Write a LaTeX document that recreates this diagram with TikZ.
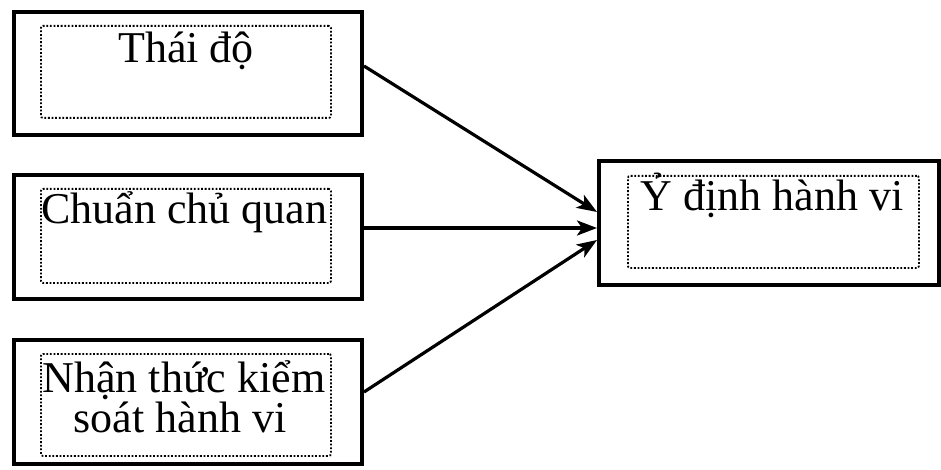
\documentclass[tikz,border=0pt]{standalone}
\usepackage{fontspec}
\setmainfont{Liberation Serif}
\usetikzlibrary{arrows.meta}
\begin{document}
\begin{tikzpicture}[x=1pt,y=-1pt,
  outerbox/.style={draw=black,line width=4pt},
  innerbox/.style={draw=black,line width=1.8pt,dash pattern=on 1.8pt off 1.8pt,rounded corners=2pt},
  lbl/.style={anchor=base,inner sep=0pt,font=\fontsize{44}{48}\selectfont},
  conn/.style={line width=3.2pt,-{Stealth[length=20pt,width=15pt,inset=5pt]}}]
\useasboundingbox (0,0) rectangle (941,470);
% left boxes
\node[outerbox,inner sep=0pt,minimum width=348pt,minimum height=123pt,anchor=north west] (b1) at (12,10) {};
\node[innerbox,inner sep=0pt,minimum width=290pt,minimum height=92pt,anchor=north west] (i1) at (40,25) {};
\node[lbl] (t1) at (186,63) {Thái độ};

\node[outerbox,inner sep=0pt,minimum width=348pt,minimum height=124pt,anchor=north west] (b2) at (12,173) {};
\node[innerbox,inner sep=0pt,minimum width=290pt,minimum height=94pt,anchor=north west] (i2) at (40,188) {};
\node[lbl,anchor=base west] (t2) at (41,223) {Chuẩn chủ quan};

\node[outerbox,inner sep=0pt,minimum width=348pt,minimum height=124pt,anchor=north west] (b3) at (12,338) {};
\node[innerbox,inner sep=0pt,minimum width=290pt,minimum height=102pt,anchor=north west] (i3) at (40,353) {};
\node[lbl] (t3a) at (184,392) {Nhận thức kiểm};
\node[lbl] (t3b) at (180,432) {soát hành vi};

% right box
\node[outerbox,inner sep=0pt,minimum width=340pt,minimum height=124pt,anchor=north west] (b4) at (597,159) {};
\node[innerbox,inner sep=0pt,minimum width=291pt,minimum height=92pt,anchor=north west] (i4) at (627,175) {};
\node[lbl] (t4) at (772,211) {Ỷ định hành vi};

% connectors
\coordinate (e1) at (597,212);
\coordinate (e2) at (597,228);
\coordinate (e3) at (597,240);
\draw[conn] (b1.east |- 0,66) -- (e1);
\draw[conn] (b2.east |- 0,228) -- (e2);
\draw[conn] (b3.east |- 0,392) -- (e3);
\end{tikzpicture}
\end{document}
